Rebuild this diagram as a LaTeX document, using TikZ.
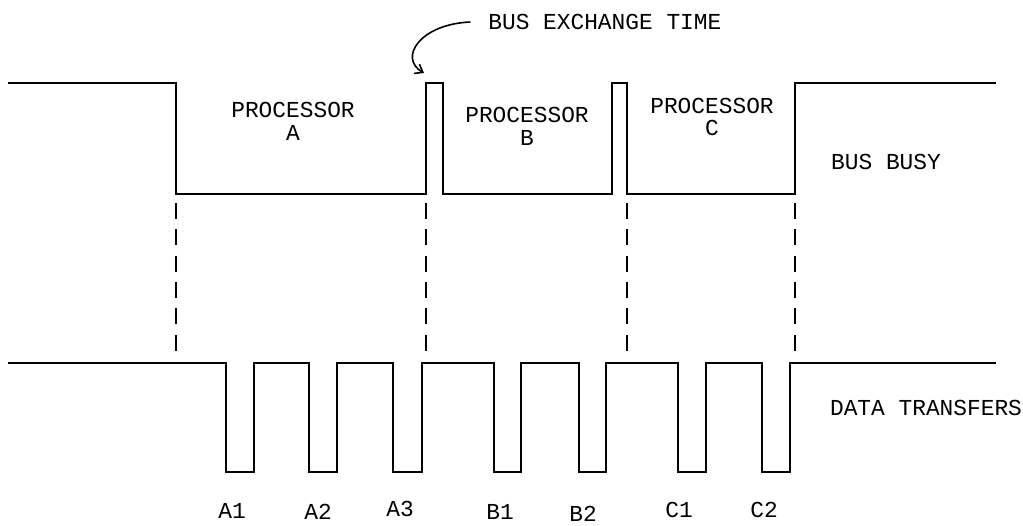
\documentclass[tikz,border=0pt]{standalone}
\usepackage{fontspec}
\setmonofont{Liberation Mono}
\usetikzlibrary{arrows.meta}
\begin{document}
\begin{tikzpicture}[x=0.02cm,y=-0.02cm,
    wave/.style={line width=1pt,line join=miter},
    guide/.style={line width=0.9pt,dash pattern=on 9pt off 6pt},
    lbl/.style={font=\ttfamily\fontsize{13}{13}\selectfont,align=center,inner sep=0pt}]
  \useasboundingbox (0,0) rectangle (1023,525);
  % bus busy line
  \draw[wave] (8,83) -| (176,194) -| (426,83) -| (443,194) -| (612,83)
    -| (627,194) -| (795,83) -- (996,83);
  % data transfer line
  \draw[wave] (8,363) -| (226,472) -| (254,363) -| (309,472) -| (337,363)
    -| (393,472) -| (422,363) -| (494,472) -| (521,363) -| (579,472)
    -| (606,363) -| (678,472) -| (706,363) -| (762,472) -| (790,363) -- (996,363);
  % dashed guides
  \draw[guide] (176,203) -- (176,357);
  \draw[guide] (426,203) -- (426,357);
  \draw[guide] (627,203) -- (627,357);
  \draw[guide] (795,203) -- (795,357);
  % labels
  \node[lbl] (procA) at (293,121) {PROCESSOR\\A};
  \node[lbl] (procB) at (527,126) {PROCESSOR\\B};
  \node[lbl] (procC) at (712,117) {PROCESSOR\\C};
  \node[lbl] (busy) at (886,162) {BUS BUSY};
  \node[lbl] (xfer) at (926,408) {DATA TRANSFERS};
  \node[lbl,anchor=west] (bxt) at (488,22) {BUS EXCHANGE TIME};
  \node[lbl] (a1) at (232,511) {A1};
  \node[lbl] (a2) at (318,512) {A2};
  \node[lbl] (a3) at (400,509) {A3};
  \node[lbl] (b1) at (500,512) {B1};
  \node[lbl] (b2) at (583,514) {B2};
  \node[lbl] (c1) at (679,510) {C1};
  \node[lbl] (c2) at (764,510) {C2};
  % arrow to the exchange pulse
  \coordinate (bxtip) at (424,73);
  \draw[line width=0.9pt,-{Straight Barb[length=4pt,width=6pt]}]
    ([xshift=-10pt]bxt.west) .. controls (420,24) and (398,58) .. (bxtip);
\end{tikzpicture}
\end{document}
